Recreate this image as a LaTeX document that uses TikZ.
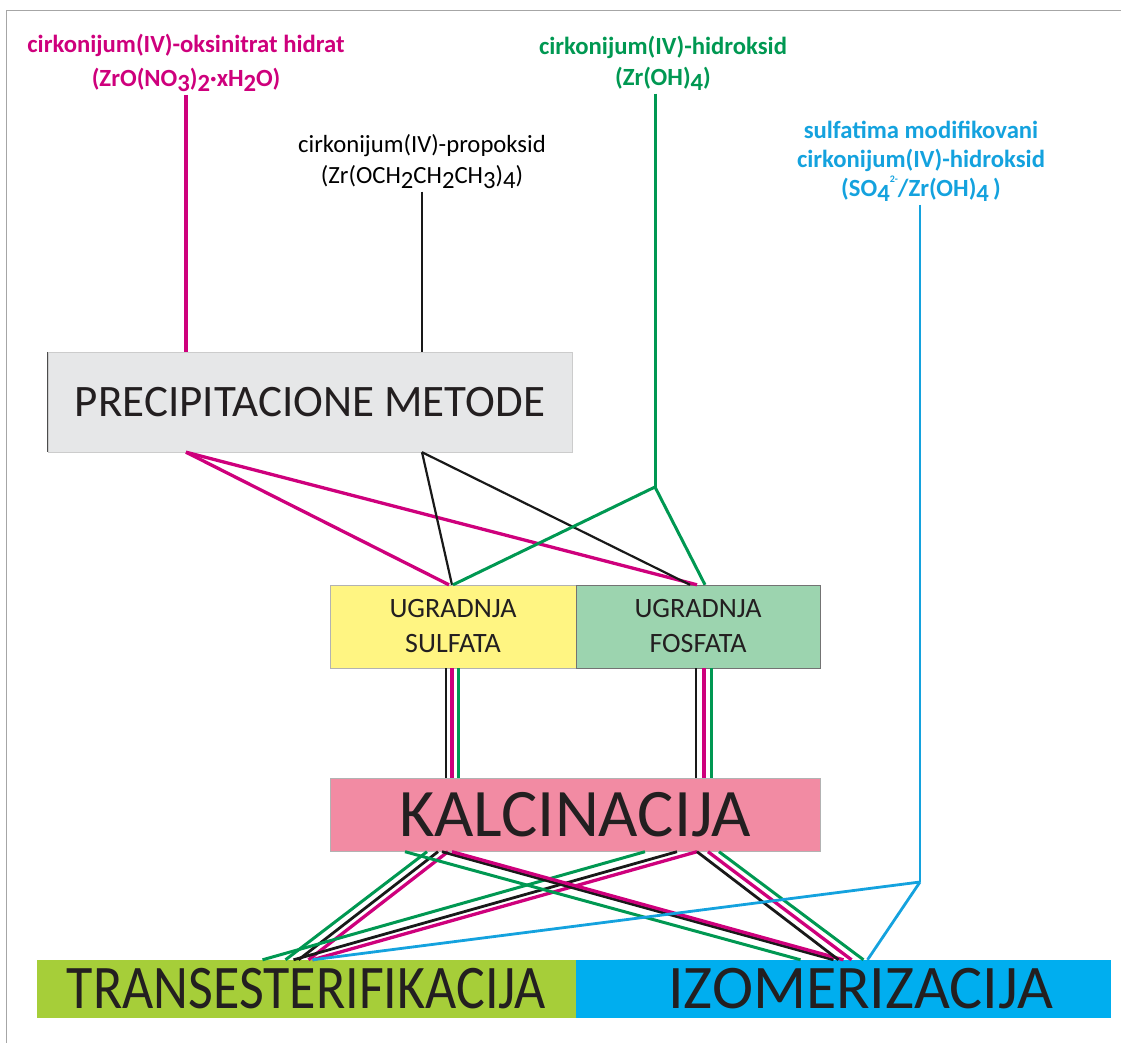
\documentclass[tikz,border=0pt]{standalone}
\usepackage{fontspec}
\setmainfont{Carlito}
\usetikzlibrary{positioning,calc}

\definecolor{zrmag}{RGB}{206,0,124}
\definecolor{zrgrn}{RGB}{0,152,82}
\definecolor{zrcyn}{RGB}{20,162,222}
\definecolor{precgray}{RGB}{230,231,232}
\definecolor{sulfyel}{RGB}{255,245,130}
\definecolor{fosfgrn}{RGB}{156,212,175}
\definecolor{kalcpink}{RGB}{242,139,163}
\definecolor{translime}{RGB}{166,206,57}
\definecolor{izomblue}{RGB}{0,174,239}
\definecolor{boxtxt}{RGB}{35,31,32}

% lowered index, as in the formulas
\newcommand{\dn}[1]{\raisebox{-0.2em}{#1}}

\begin{document}
\begin{tikzpicture}[x=1pt,y=-1pt,
    lbl/.style={inner sep=0pt, inner ysep=3pt, align=center, anchor=north},
    box/.style={rectangle, inner sep=0pt, align=center, text=boxtxt},
    mag/.style={draw=zrmag, line width=3.3pt},
    blk/.style={draw=black!90, line width=2.8pt},
    grn/.style={draw=zrgrn, line width=3pt},
    cyn/.style={draw=zrcyn, line width=2.8pt}]
    \useasboundingbox (0,0) rectangle (1121,1043);
    \draw[gray!70,line width=1pt] (6,1043) -- (6,11) -- (1121,11);

    % Precursors
    \node[lbl,text=zrmag,font=\bfseries\fontsize{24.7}{34}\selectfont] (zno) at (186,31)
        {cirkonijum(IV)-oksinitrat hidrat\\(ZrO(NO\dn{3})\dn{2}·xH\dn{2}O)};
    \node[lbl,text=black,font=\fontsize{24.7}{31}\selectfont] (zrp) at (422,131)
        {cirkonijum(IV)-propoksid\\(Zr(OCH\dn{2}CH\dn{2}CH\dn{3})\dn{4})};
    \node[lbl,text=zrgrn,font=\bfseries\fontsize{24.7}{31}\selectfont] (zrh) at (663,33)
        {cirkonijum(IV)-hidroksid\\(Zr(OH)\dn{4})};
    \node[lbl,text=zrcyn,font=\bfseries\fontsize{24.7}{29}\selectfont] (sz) at (921,118)
        {sulfatima modifikovani\\cirkonijum(IV)-hidroksid\\(SO\dn{4}\raisebox{0.55em}{\fontsize{10}{10}\selectfont 2-}/Zr(OH)\dn{4}\,)};

    % Steps
    \node[box,fill=precgray,draw=black!20,minimum width=524pt,minimum height=100pt,
        font=\fontsize{45}{54}\selectfont] (prec) at (310,402) {PRECIPITACIONE METODE};
    \draw[black!70,line width=0.8pt] (prec.north west) -- (prec.south west);
    \node[box,fill=sulfyel,draw=black!30,minimum width=246pt,minimum height=83pt,
        font=\fontsize{28}{35}\selectfont] (sulf) at (453,626.5) {UGRADNJA\\SULFATA};
    \node[box,fill=fosfgrn,draw=black!55,minimum width=244pt,minimum height=83pt,
        font=\fontsize{28}{35}\selectfont] (fosf) at (698,626.5) {UGRADNJA\\FOSFATA};
    \node[box,fill=kalcpink,draw=black!30,minimum width=490pt,minimum height=73pt,
        font=\fontsize{68}{80}\selectfont] (kalc) at (575,815) {KALCINACIJA};
    \node[box,fill=translime,minimum width=539pt,minimum height=58pt,
        font=\fontsize{62}{70}\selectfont] (trans) at (306.5,989) {\scalebox{0.87}[1]{TRANSESTERIFIKACIJA}};
    \node[box,fill=izomblue,minimum width=535pt,minimum height=58pt,
        font=\fontsize{62}{70}\selectfont] (izom) at (843.5,989) {\hspace{34pt}IZOMERIZACIJA};

    \coordinate (gj) at (655,487);
    \coordinate (cj) at (920,882);

    % Precursors to precipitation
    \draw[mag] (zno.south) -- (zno.south |- prec.north);
    \draw[blk,line width=2.2pt] (zrp.south) -- (zrp.south |- prec.north);
    \draw[grn] (zrh.south -| gj) -- (gj);
    \draw[cyn] (sz.south -| cj) -- (cj);

    % Precipitation to modification
    \draw[mag] (zno.south |- prec.south) -- ([xshift=-4pt]sulf.north);
    \draw[mag] (zno.south |- prec.south) -- ([xshift=-1pt]fosf.north);
    \draw[blk,line width=2.2pt] (zrp.south |- prec.south) -- ([xshift=-1pt]sulf.north);
    \draw[blk,line width=2.2pt] (zrp.south |- prec.south) -- ([xshift=-8pt]fosf.north);
    \draw[grn] (gj) -- (sulf.north);
    \draw[grn] (gj) -- ([xshift=7pt]fosf.north);

    % Modification to calcination
    \foreach \m/\c/\dx in {sulf/blk/-7, sulf/mag/-1, sulf/grn/5,
                           fosf/blk/-2, fosf/mag/6, fosf/grn/13}
        \draw[\c] ([xshift=\dx pt]\m.south) -- ([xshift=\dx pt]\m.south |- kalc.north);

    % Calcination to applications
    \foreach \c/\a/\b in {grn/-148/-21, blk/-137/-8, mag/-127/2,
                          grn/70/-44, blk/102/-13, mag/122/6}
        \draw[\c] ([xshift=\a pt]kalc.south) -- ([xshift=\b pt]trans.north);
    \foreach \c/\a/\b in {grn/-170/-43, blk/-133/-10, mag/-123/0,
                          blk/122/-5, mag/133/8, grn/144/20}
        \draw[\c] ([xshift=\a pt]kalc.south) -- ([xshift=\b pt]izom.north);
    \draw[cyn] (cj) -- ([xshift=6pt]trans.north);
    \draw[cyn] (cj) -- ([xshift=24pt]izom.north);
\end{tikzpicture}
\end{document}
